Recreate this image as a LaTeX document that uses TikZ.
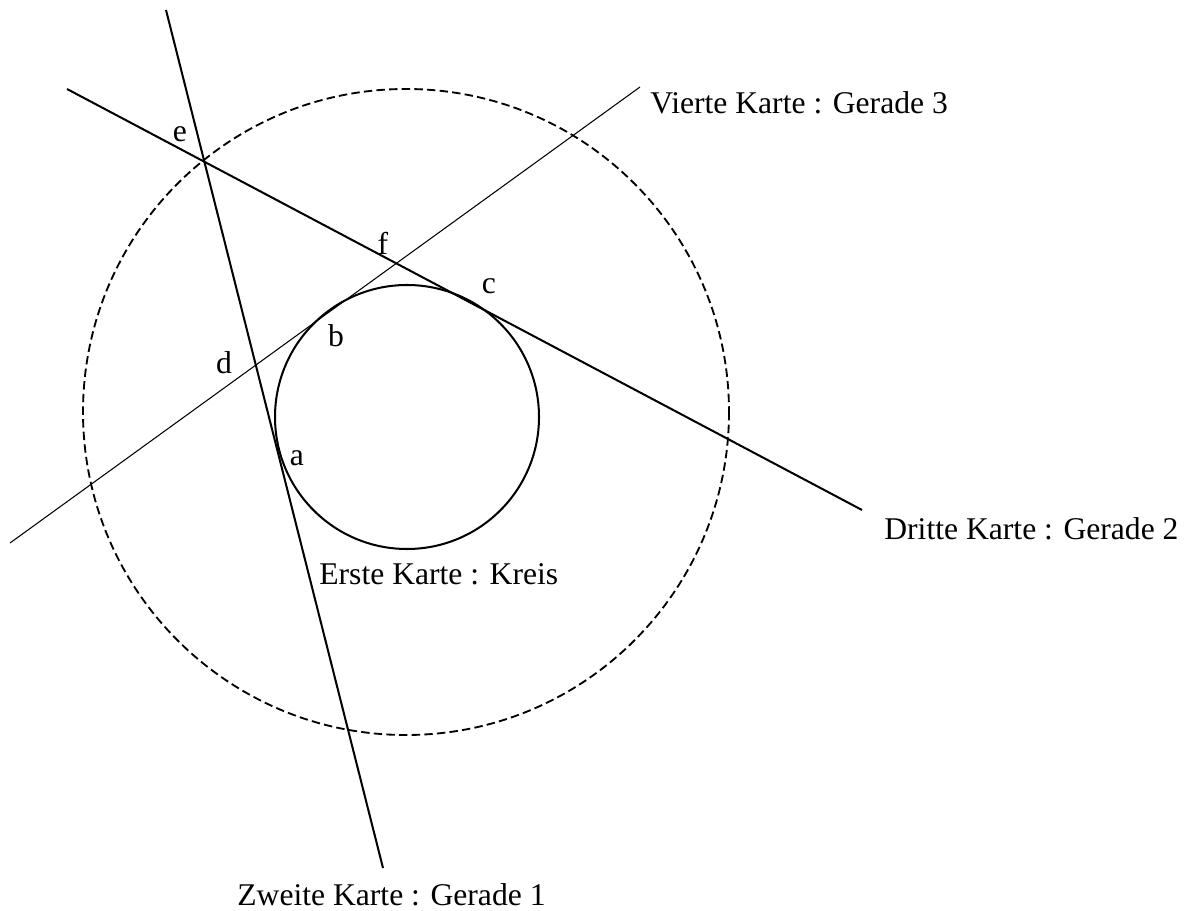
\documentclass[tikz,border=0pt]{standalone}
\usepackage{fontspec}
\setmainfont{Liberation Serif}
\usetikzlibrary{positioning}

\begin{document}
\begin{tikzpicture}[
    x=0.02cm, y=-0.02cm,
    gerade/.style={line width=1.15pt},
    duenn/.style={line width=0.6pt},
    kreislinie/.style={line width=1.15pt},
    hilfskreis/.style={line width=1.05pt, dash pattern=on 4.8pt off 2.4pt},
    karte/.style={anchor=base west, inner sep=0pt, font=\fontsize{18}{20}\selectfont},
    punkt/.style={anchor=base, inner sep=0pt, font=\fontsize{18}{20}\selectfont}
  ]
  \useasboundingbox (0,0) rectangle (1192,911);

  % Mittelpunkte
  \coordinate (M) at (407,417);
  \coordinate (H) at (406,412);

  % Endpunkte der Geraden
  \coordinate (g1a) at (166,10);
  \coordinate (g1b) at (383,868);
  \coordinate (g2a) at (67,89);
  \coordinate (g2b) at (862,510);
  \coordinate (g3a) at (10,543);
  \coordinate (g3b) at (640,87);

  \draw[hilfskreis] (H) circle [radius=323];
  \draw[kreislinie] (M) circle [radius=132];

  \draw[gerade] (g1a) -- (g1b);
  \draw[gerade] (g2a) -- (g2b);
  \draw[duenn] (g3a) -- (g3b);

  % Beschriftungen
  \node[karte] (vierte) at (650,114) {Vierte Karte : Gerade 3};
  \node[karte] (dritte) at (884,539) {Dritte Karte : Gerade 2};
  \node[karte] (erste) at (319,584) {Erste Karte : Kreis};
  \node[karte] (zweite) at (237,905) {Zweite Karte : Gerade 1};

  \node[punkt] (e) at (180,142) {e};
  \node[punkt] (f) at (383,255) {f};
  \node[punkt] (c) at (489,294) {c};
  \node[punkt] (b) at (336,347) {b};
  \node[punkt] (d) at (224,374) {d};
  \node[punkt] (a) at (297,465) {a};

\end{tikzpicture}
\end{document}
